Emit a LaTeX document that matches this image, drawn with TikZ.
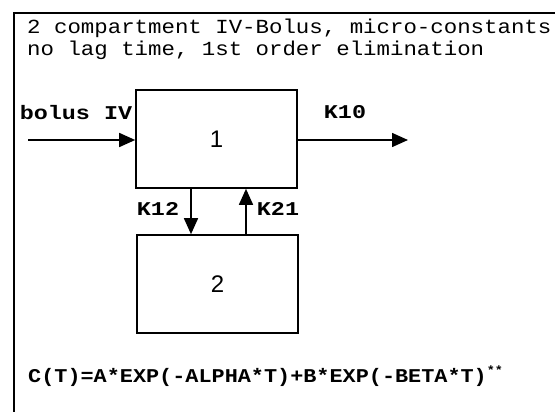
\documentclass[tikz,border=0pt]{standalone}
\usepackage{fontspec}
\usetikzlibrary{arrows.meta}
\newfontfamily\titlefont[FakeStretch=1.12]{Liberation Mono}
\newfontfamily\labfont[FakeStretch=1.2]{Liberation Mono}
\newfontfamily\eqfont[FakeStretch=1.12]{Liberation Mono}
\newfontfamily\numfont{Liberation Sans}
\begin{document}
\begin{tikzpicture}[x=1pt,y=-1pt,
  comp/.style={draw,line width=1.6pt,minimum width=161pt,minimum height=98pt,inner sep=0pt,font=\numfont\fontsize{24}{24}\selectfont},
  flow/.style={line width=1.5pt,-{Triangle[length=16pt,width=14pt]}},
  lab/.style={font=\labfont\bfseries\fontsize{19.5}{20}\selectfont,inner sep=0pt},
  ttl/.style={font=\titlefont\fontsize{20}{20}\selectfont,inner sep=0pt,anchor=base west},
]
\useasboundingbox (0,0) rectangle (555,412);
\fill[white] (0,0) rectangle (555,412);
% frame
\draw[line width=2.4pt] (14,412) -- (14,13) -- (555,13);
% title
\node[ttl] (t1) at (27,34) {2 compartment IV-Bolus, micro-constants};
\node[ttl] (t2) at (27,56) {no lag time, 1st order elimination};
% compartments
\node[comp] (box1) at (216.5,139) {1};
\node[comp] (box2) at (217.5,284) {2};
% input
\coordinate (in) at (28,140);
\draw[flow] (in) -- (in -| box1.west);
\node[lab] (bolus) at (76,113) {bolus IV};
% output
\coordinate (out) at (408,140);
\draw[flow] (out -| box1.east) -- (out);
\node[lab] (k10) at (345,112) {K10};
% transfers
\coordinate (x12) at (191,0);
\coordinate (x21) at (246,0);
\draw[flow] (box1.south -| x12) -- (box2.north -| x12);
\draw[flow] (box2.north -| x21) -- (box1.south -| x21);
\node[lab] (k12) at (158,209) {K12};
\node[lab] (k21) at (278,209) {K21};
% equation
\node[font=\eqfont\bfseries\fontsize{19.5}{20}\selectfont,inner sep=0pt,anchor=base west] (eq) at (28,382) {C(T)=A*EXP(-ALPHA*T)+B*EXP(-BETA*T)\raisebox{8pt}{\fontsize{12}{12}\selectfont **}};
\end{tikzpicture}
\end{document}
